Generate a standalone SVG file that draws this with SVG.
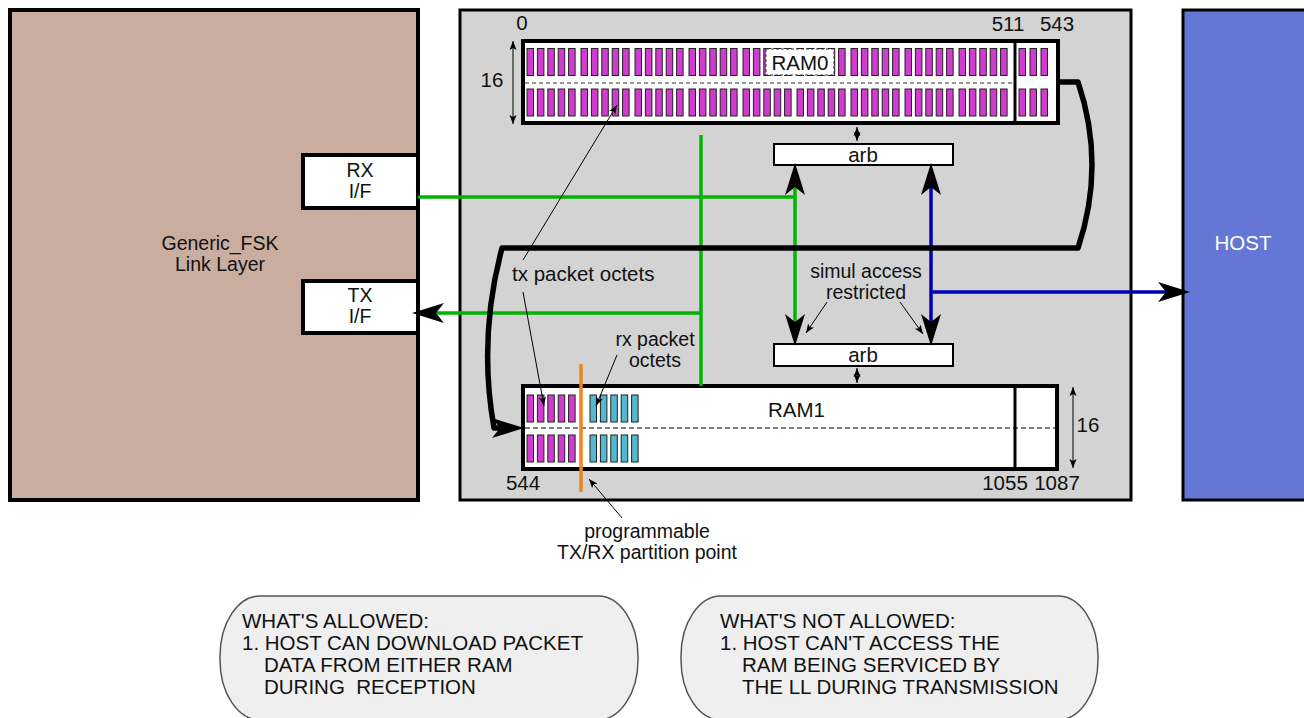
<svg xmlns="http://www.w3.org/2000/svg" xmlns:xlink="http://www.w3.org/1999/xlink" width="1304" height="718" viewBox="0 0 1304 718">
<style>
text{font-family:"Liberation Sans",Arial,sans-serif;font-size:20.5px;fill:#111}
text.st{font-size:19.5px}
.c{text-anchor:middle}
.blk{fill:none;stroke:#000}
.grn{fill:none;stroke:#00b400;stroke-width:3.5}
.blu{fill:none;stroke:#0000b4;stroke-width:3.5}
.thin{fill:none;stroke:#000;stroke-width:1}
.wbox{fill:#fff;stroke:#000;stroke-width:2}
.note{fill:#efefef;stroke:#555;stroke-width:1.5}
</style>
<defs>
<marker id="big" markerUnits="userSpaceOnUse" viewBox="-10 -12 36 24" markerWidth="36" markerHeight="24" refX="0" refY="0" orient="auto-start-reverse">
<path d="M24,0 L-8,-10 L0,0 L-8,10 Z" fill="#000"/>
</marker>
<marker id="sm" markerUnits="userSpaceOnUse" viewBox="-10 -5 12 10" markerWidth="12" markerHeight="10" refX="0" refY="0" orient="auto-start-reverse">
<path d="M0,0 L-9,-3.5 L-7,0 L-9,3.5 Z" fill="#000"/>
</marker>
<g id="g5" stroke="#222" stroke-width="1">
<rect x="0" y="0" width="6.5" height="27"/>
<rect x="10.4" y="0" width="6.5" height="27"/>
<rect x="20.8" y="0" width="6.5" height="27"/>
<rect x="31.2" y="0" width="6.5" height="27"/>
<rect x="41.6" y="0" width="6.5" height="27"/>
</g>
</defs>
<rect width="1304" height="718" fill="#fff"/>

<g id="linklayer">
<rect x="10" y="10" width="408" height="490" fill="#c9ad9f" stroke="#000" stroke-width="4"/>
<text class="c st" x="220" y="249.5">Generic_FSK<tspan x="220" dy="21">Link Layer</tspan></text>
</g>
<g id="rxif">
<rect x="303" y="155" width="115" height="53" fill="#fff" stroke="#000" stroke-width="4"/>
<text class="c st" x="360" y="176.5">RX<tspan x="360" dy="21">I/F</tspan></text>
</g>
<g id="txif">
<rect x="303" y="281" width="115" height="52" fill="#fff" stroke="#000" stroke-width="4"/>
<text class="c st" x="360" y="301.5">TX<tspan x="360" dy="21">I/F</tspan></text>
</g>

<g id="buffer">
<rect x="460" y="10" width="671" height="490" fill="#d3d3d3" stroke="#000" stroke-width="3"/>
</g>

<g id="host">
<rect x="1183" y="10" width="125" height="490" fill="#6477d6" stroke="#000" stroke-width="3"/>
<text class="c" x="1243" y="250" style="fill:#fff">HOST</text>
</g>

<g id="ram0">
<rect x="523" y="41" width="535" height="82" fill="#fff" stroke="#000" stroke-width="4"/>
<line x1="1015" y1="41" x2="1015" y2="123" stroke="#000" stroke-width="3"/>
<line x1="525" y1="83" x2="1013" y2="83" stroke="#777" stroke-width="1.5" stroke-dasharray="4,3"/>
<use href="#g5" x="527" y="48.5" fill="#d03ccf"/>
<use href="#g5" x="581" y="48.5" fill="#d03ccf"/>
<use href="#g5" x="635" y="48.5" fill="#d03ccf"/>
<use href="#g5" x="689" y="48.5" fill="#d03ccf"/>
<use href="#g5" x="743" y="48.5" fill="#d03ccf"/>
<use href="#g5" x="797" y="48.5" fill="#d03ccf"/>
<use href="#g5" x="851" y="48.5" fill="#d03ccf"/>
<use href="#g5" x="905" y="48.5" fill="#d03ccf"/>
<use href="#g5" x="959" y="48.5" fill="#d03ccf"/>
<use href="#g5" x="527" y="89" fill="#d03ccf"/>
<use href="#g5" x="581" y="89" fill="#d03ccf"/>
<use href="#g5" x="635" y="89" fill="#d03ccf"/>
<use href="#g5" x="689" y="89" fill="#d03ccf"/>
<use href="#g5" x="743" y="89" fill="#d03ccf"/>
<use href="#g5" x="797" y="89" fill="#d03ccf"/>
<use href="#g5" x="851" y="89" fill="#d03ccf"/>
<use href="#g5" x="905" y="89" fill="#d03ccf"/>
<use href="#g5" x="959" y="89" fill="#d03ccf"/>
<g fill="#d03ccf" stroke="#222" stroke-width="1">
<rect x="1019" y="48.5" width="6.5" height="27"/>
<rect x="1030" y="48.5" width="6.5" height="27"/>
<rect x="1041" y="48.5" width="6.5" height="27"/>
<rect x="1019" y="89" width="6.5" height="27"/>
<rect x="1030" y="89" width="6.5" height="27"/>
<rect x="1041" y="89" width="6.5" height="27"/>
</g>
<rect x="766" y="49" width="68" height="26" fill="#fff" stroke="#333" stroke-width="1" stroke-dasharray="3,2"/>
<text class="c" x="800" y="70">RAM0</text>
<text class="c" x="522" y="30">0</text>
<text class="c" x="1008" y="31">511</text>
<text class="c" x="1057" y="31">543</text>
<text class="c" x="492" y="87">16</text>
</g>

<g id="ram1">
<rect x="523" y="386" width="534" height="83" fill="#fff" stroke="#000" stroke-width="4"/>
<line x1="1015" y1="386" x2="1015" y2="469" stroke="#000" stroke-width="3"/>
<line x1="525" y1="428" x2="1055" y2="428" stroke="#000" stroke-width="1" stroke-dasharray="5,3"/>
<use href="#g5" x="527" y="395" fill="#d03ccf"/>
<use href="#g5" x="527" y="435" fill="#d03ccf"/>
<use href="#g5" x="590" y="395" fill="#52b9d0"/>
<use href="#g5" x="590" y="435" fill="#52b9d0"/>
<text x="768" y="417">RAM1</text>
<text class="c" x="523" y="490">544</text>
<text class="c" x="1005" y="490">1055</text>
<text class="c" x="1057" y="490">1087</text>
<text class="c" x="1088" y="432">16</text>
</g>

<g id="arb0">
<rect class="wbox" x="774" y="144" width="179" height="21"/>
<text class="c" x="863" y="162">arb</text>
</g>
<g id="arb1">
<rect class="wbox" x="774" y="344" width="179" height="22"/>
<text class="c" x="863" y="362">arb</text>
</g>

<g id="partition">
<line x1="581" y1="364" x2="581" y2="492" stroke="#f0841e" stroke-width="3.5"/>
</g>

<g id="labels">
<text x="512" y="281">tx packet octets</text>
<text class="c st" x="655" y="345.5">rx packet<tspan x="655" dy="21">octets</tspan></text>
<text class="c st" x="866" y="277.5">simul access<tspan x="866" dy="21">restricted</tspan></text>
<text class="c st" x="647" y="537.5">programmable<tspan x="647" dy="21">TX/RX partition point</tspan></text>
</g>

<g id="connectors">
<line class="grn" x1="418" y1="197" x2="795" y2="197"/>
<line class="grn" x1="795" y1="187" x2="795" y2="322" marker-start="url(#big)" marker-end="url(#big)"/>
<line class="grn" x1="701" y1="135" x2="701" y2="386"/>
<line class="grn" x1="701" y1="313" x2="436" y2="313" marker-end="url(#big)"/>
<line class="blu" x1="931" y1="187" x2="931" y2="322" marker-start="url(#big)" marker-end="url(#big)"/>
<line class="blu" x1="931" y1="292" x2="1166" y2="292" marker-end="url(#big)"/>
<path class="blk" stroke-width="5.5" stroke-linejoin="round" d="M1058,82 L1078,82 Q1106,165 1078,248 L502,248 Q478,338 494,428 L500,428" marker-end="url(#big)"/>
<line class="thin" x1="857" y1="127" x2="857" y2="141" marker-start="url(#sm)" marker-end="url(#sm)"/>
<line class="thin" x1="857" y1="368" x2="857" y2="383" marker-start="url(#sm)" marker-end="url(#sm)"/>
<line class="thin" x1="513" y1="41" x2="513" y2="124" marker-start="url(#sm)" marker-end="url(#sm)"/>
<line class="thin" x1="1073" y1="387" x2="1073" y2="468" marker-start="url(#sm)" marker-end="url(#sm)"/>
<line class="thin" x1="523" y1="260" x2="617" y2="105" marker-end="url(#sm)"/>
<line class="thin" x1="523" y1="292" x2="544" y2="406" marker-end="url(#sm)"/>
<line class="thin" x1="617" y1="355" x2="596" y2="406" marker-end="url(#sm)"/>
<line class="thin" x1="827" y1="302" x2="806" y2="333" marker-end="url(#sm)"/>
<line class="thin" x1="900" y1="302" x2="923" y2="334" marker-end="url(#sm)"/>
<line class="thin" x1="622" y1="518" x2="589" y2="479" marker-end="url(#sm)"/>
</g>

<g id="allowed">
<rect class="note" x="220" y="596" width="418" height="124" rx="40" ry="60"/>
<text x="242" y="628" xml:space="preserve">WHAT'S ALLOWED:<tspan x="242" dy="22">1. HOST CAN DOWNLOAD PACKET</tspan><tspan x="264" dy="22">DATA FROM EITHER RAM</tspan><tspan x="264" dy="21.5">DURING  RECEPTION</tspan></text>
</g>
<g id="notallowed">
<rect class="note" x="681" y="596" width="417" height="124" rx="40" ry="60"/>
<text x="720" y="628">WHAT'S NOT ALLOWED:<tspan x="720" dy="22">1. HOST CAN'T ACCESS THE</tspan><tspan x="742" dy="22">RAM BEING SERVICED BY</tspan><tspan x="742" dy="21.5">THE LL DURING TRANSMISSION</tspan></text>
</g>
</svg>
